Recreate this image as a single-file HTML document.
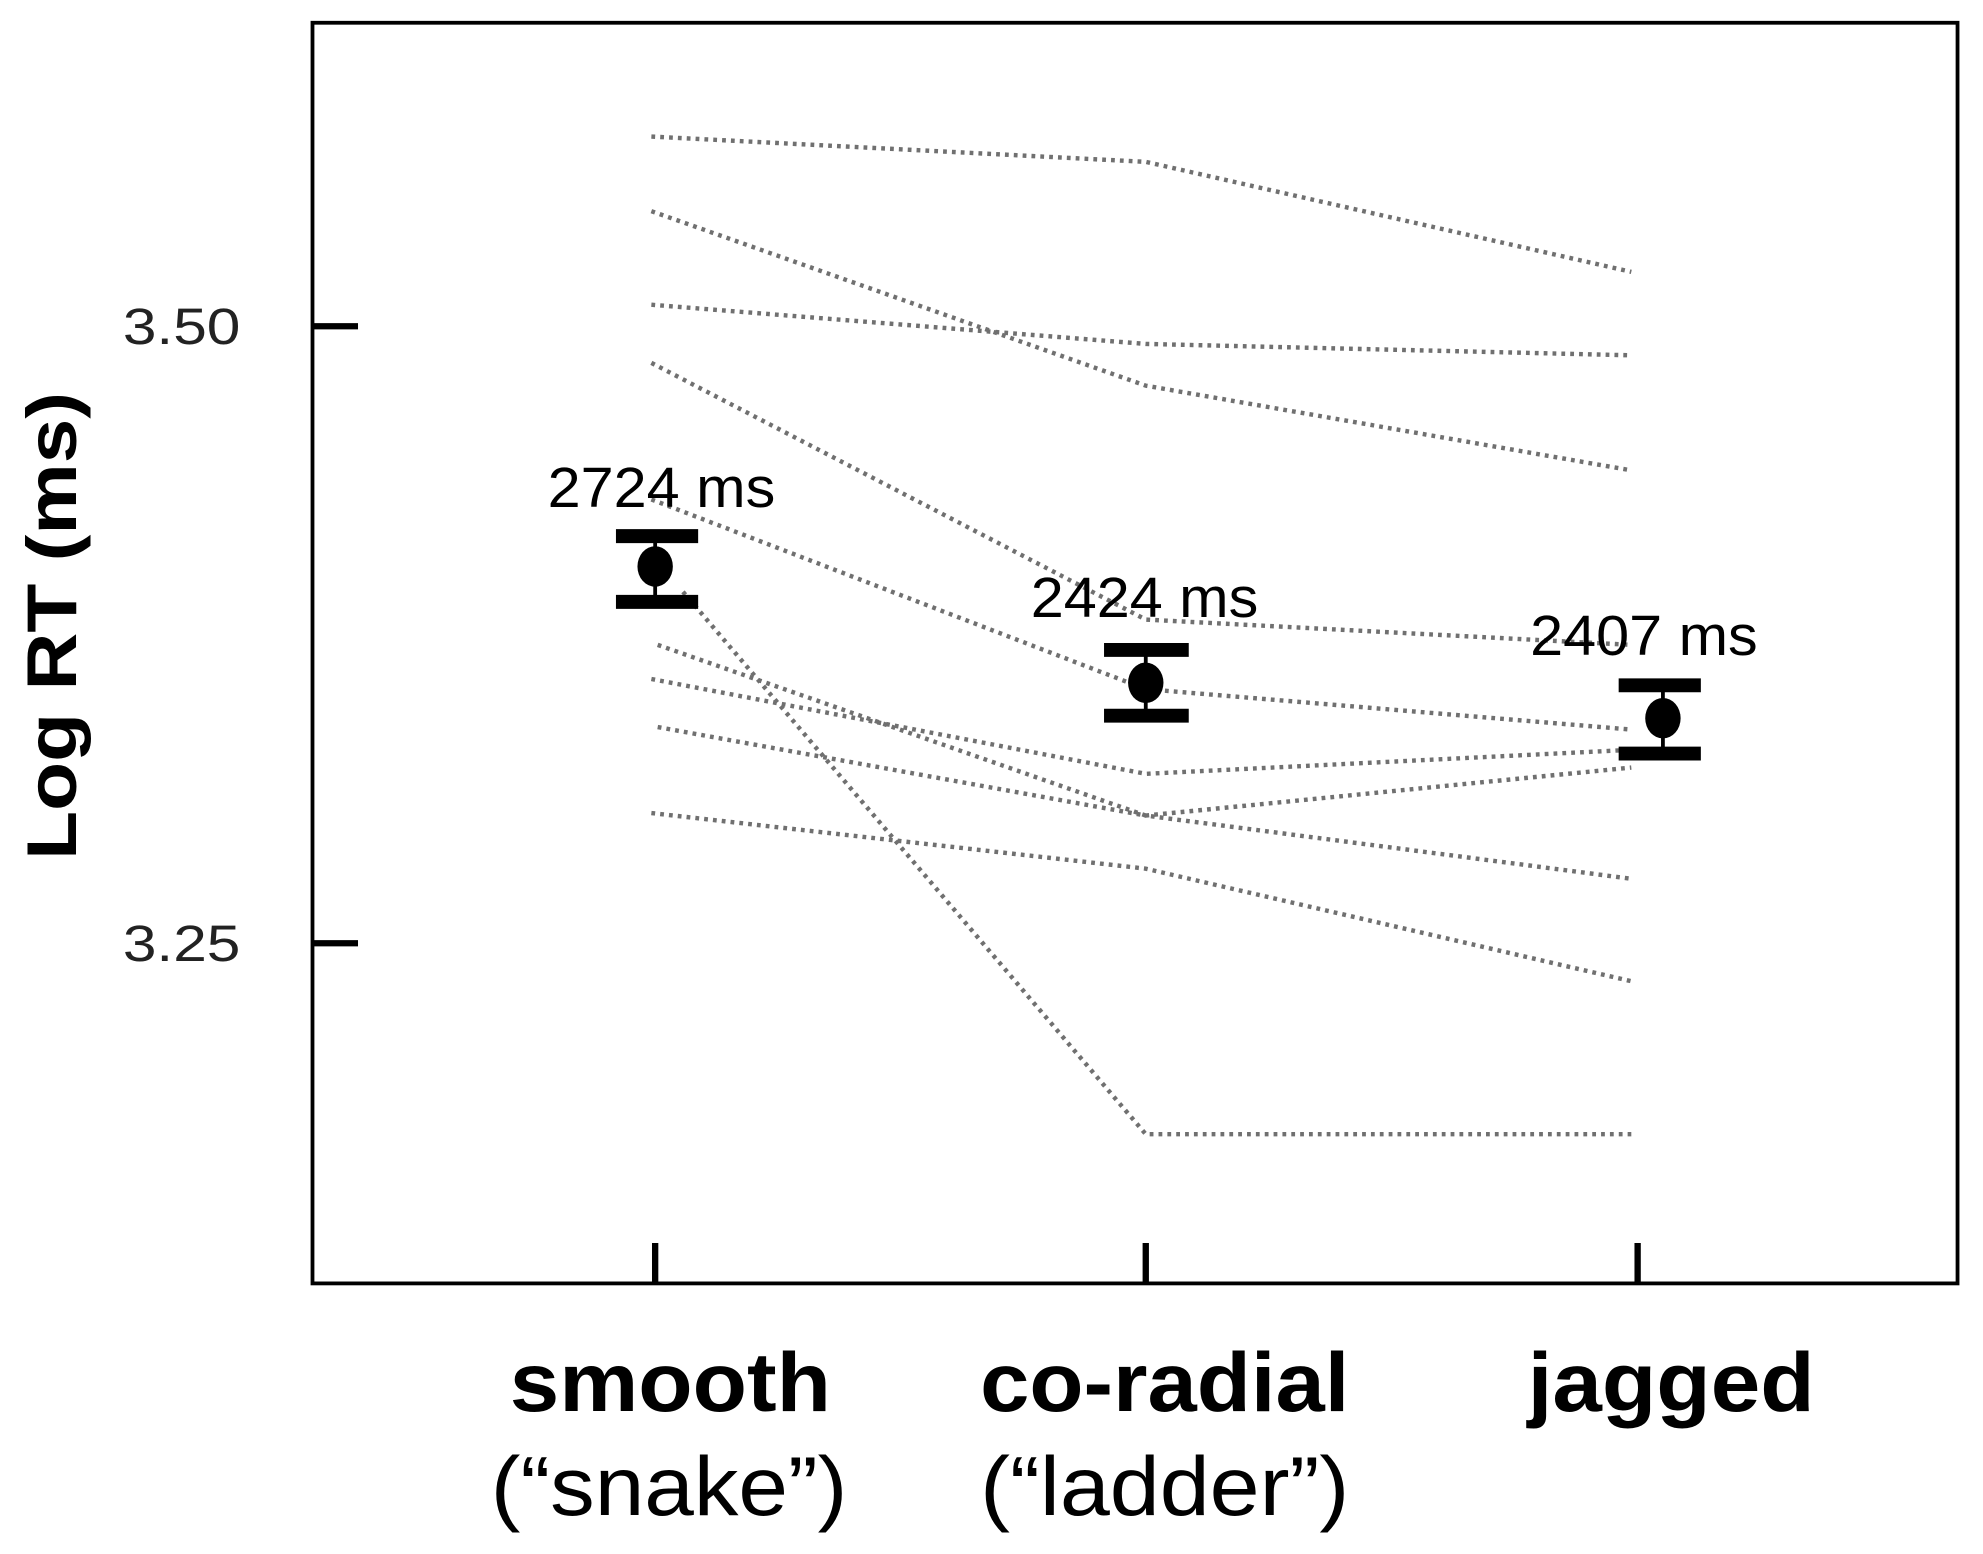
<!DOCTYPE html>
<html><head><meta charset="utf-8"><style>
html,body{margin:0;padding:0;background:#fff;}
svg{display:block;}
</style></head><body>
<svg width="1983" height="1554" viewBox="0 0 1568 1229" xmlns="http://www.w3.org/2000/svg" font-family="Liberation Sans, Arial, sans-serif">
<rect x="0" y="0" width="1568" height="1229" fill="#fff"/>
<rect x="247" y="18" width="1301" height="997" fill="none" stroke="#000" stroke-width="3"/>
<g stroke="#000" stroke-width="5">
<line x1="247" y1="258" x2="283" y2="258"/>
<line x1="247" y1="746" x2="283" y2="746"/>
<line x1="518" y1="983" x2="518" y2="1015"/>
<line x1="906" y1="983" x2="906" y2="1015"/>
<line x1="1295" y1="983" x2="1295" y2="1015"/>
</g>
<text x="97" y="272" font-size="40" textLength="93" lengthAdjust="spacingAndGlyphs" fill="#222">3.50</text>
<text x="97" y="760" font-size="40" textLength="93" lengthAdjust="spacingAndGlyphs" fill="#222">3.25</text>
<text transform="translate(60,495) rotate(-90)" x="-185" font-size="56" font-weight="bold" textLength="370" lengthAdjust="spacingAndGlyphs">Log RT (ms)</text>
<g fill="none" stroke="#707070" stroke-width="3.5" stroke-dasharray="3,4">
<polyline points="515,108 906,128 1290,215"/>
<polyline points="515,167 906,305 1290,372"/>
<polyline points="515,241 906,272 1290,281"/>
<polyline points="515,287 906,490 1290,510"/>
<polyline points="515,395 906,545 1290,577"/>
<polyline points="540,468 906,897 1290,897"/>
<polyline points="520,510 906,645 1290,695"/>
<polyline points="515,537 906,612 1290,593"/>
<polyline points="520,575 906,645 1290,607"/>
<polyline points="515,643 906,687 1290,776"/>
</g>
<g stroke="#000" stroke-width="11" fill="#000">
<line x1="487" y1="424" x2="552" y2="424"/><line x1="487" y1="476" x2="552" y2="476"/>
<line x1="518" y1="424" x2="518" y2="476" stroke-width="3"/>
<line x1="873" y1="514" x2="940" y2="514"/><line x1="873" y1="566" x2="940" y2="566"/>
<line x1="906" y1="514" x2="906" y2="566" stroke-width="3"/>
<line x1="1280" y1="542" x2="1345" y2="542"/><line x1="1280" y1="596" x2="1345" y2="596"/>
<line x1="1315" y1="542" x2="1315" y2="596" stroke-width="3"/>
</g>
<ellipse cx="518" cy="448" rx="14" ry="16" fill="#000"/>
<ellipse cx="906" cy="540" rx="14" ry="16" fill="#000"/>
<ellipse cx="1315" cy="568" rx="14" ry="16" fill="#000"/>
<g font-size="45">
<text x="433" y="401" textLength="180" lengthAdjust="spacingAndGlyphs">2724 ms</text>
<text x="815" y="488" textLength="180" lengthAdjust="spacingAndGlyphs">2424 ms</text>
<text x="1210" y="518" textLength="180" lengthAdjust="spacingAndGlyphs">2407 ms</text>
</g>
<g font-size="66">
<text x="403" y="1116" font-weight="bold" textLength="254" lengthAdjust="spacingAndGlyphs">smooth</text>
<text x="388" y="1198" textLength="282" lengthAdjust="spacingAndGlyphs">(“snake”)</text>
<text x="775" y="1116" font-weight="bold" textLength="292" lengthAdjust="spacingAndGlyphs">co-radial</text>
<text x="775" y="1198" textLength="292" lengthAdjust="spacingAndGlyphs">(“ladder”)</text>
<text x="1208" y="1116" font-weight="bold" textLength="227" lengthAdjust="spacingAndGlyphs">jagged</text>
</g>
</svg>
</body></html>
